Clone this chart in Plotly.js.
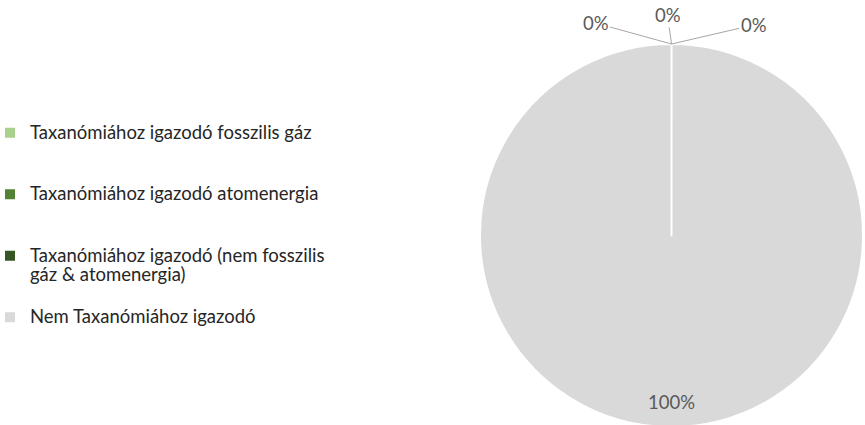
<!DOCTYPE html>
<html>
<head>
<meta charset="utf-8">
<script src="https://cdn.plot.ly/plotly-3.0.1.min.js"></script>
<style>
html, body { margin: 0; padding: 0; overflow: hidden; background: #ffffff; }
#chart { width: 865px; height: 440px; }
</style>
</head>
<body>
<div id="chart"></div>
<script>
// ---- data ----
const categories = [
  "Taxanómiához igazodó fosszilis gáz",
  "Taxanómiához igazodó atomenergia",
  "Taxanómiához igazodó (nem fosszilis<br>gáz &amp; atomenergia)",
  "Nem Taxanómiához igazodó"
];
const shares = [0.001, 0.001, 0.001, 99.997];   // percent of total
const sliceColors = ["#a9d18e", "#548235", "#375623", "#d9d9d9"];

// ---- layout constants ----
const W = 865, H = 440;
const pieDomainX = [480 / W, 863 / W];
const pieDomainY = [1 - 427 / H, 1 - 44 / H];
const textColor = "#595959";
const fontFamily = "Lato, 'Liberation Sans', sans-serif";

// legend label text: pad each entry to three lines so entries are evenly spaced
const legendText = categories.map(c => {
  const lines = c.split("<br>");
  const styled = lines.map(l => '<span style="font-size:18.5px">' + l + '</span>');
  while (styled.length < 3) styled.push(" ");
  return styled.join("<br>");
});

const total = shares.reduce((a, b) => a + b, 0);
const pctText = shares.map(v => Math.round(v / total * 100) + "%");

const trace = {
  type: "pie",
  values: shares,
  labels: legendText,
  marker: { colors: sliceColors, line: { color: "#ffffff", width: 2 } },
  sort: false,
  direction: "clockwise",
  rotation: 0,
  textinfo: "none",
  hoverinfo: "skip",
  domain: { x: pieDomainX, y: pieDomainY }
};

const cx = (pieDomainX[0] + pieDomainX[1]) / 2;
const topY = pieDomainY[1];
const labelOffsets = [[-76, -21], [-4, -29], [82, -19]];
const annotations = labelOffsets.map((o, i) => ({
  x: cx, y: topY, xref: "paper", yref: "paper",
  text: pctText[i], showarrow: true, arrowhead: 0, arrowwidth: 1,
  arrowcolor: "#a6a6a6", ax: o[0], ay: o[1], standoff: 0,
  font: { family: fontFamily, size: 18.5, color: textColor }
}));
annotations.push({
  x: cx, y: 1 - 402 / H, xref: "paper", yref: "paper",
  xanchor: "center", yanchor: "middle",
  text: pctText[3], showarrow: false,
  font: { family: fontFamily, size: 18.5, color: textColor }
});

const layout = {
  width: W, height: H,
  margin: { l: 0, r: 0, t: 0, b: 0, autoexpand: false },
  paper_bgcolor: "#ffffff",
  showlegend: true,
  legend: {
    x: -10 / W, xanchor: "left",
    y: 1 - 116.5 / H, yanchor: "top",
    valign: "top",
    bgcolor: "rgba(0,0,0,0)",
    font: { family: fontFamily, size: 15, color: "#262626" }
  },
  annotations: annotations
};

Plotly.newPlot("chart", [trace], layout, { displayModeBar: false, staticPlot: true });
</script>
</body>
</html>
